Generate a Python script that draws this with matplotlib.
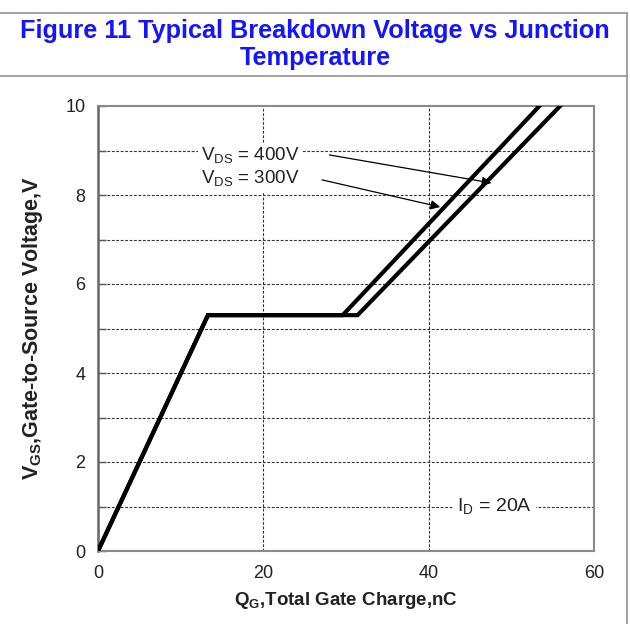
import matplotlib
matplotlib.use("Agg")
import matplotlib.pyplot as plt
from matplotlib.lines import Line2D

plt.rcParams['font.family'] = ['Liberation Sans', 'DejaVu Sans']
plt.rcParams['mathtext.fontset'] = 'custom'
plt.rcParams['mathtext.rm'] = 'Liberation Sans'
plt.rcParams['mathtext.bf'] = 'Liberation Sans:bold'

# Data
title = "Figure 11 Typical Breakdown Voltage vs Junction\nTemperature"
q_300 = [0, 13.3, 29.6, 53.4]
v_300 = [0, 5.3, 5.3, 10.0]
q_400 = [0, 13.3, 31.4, 55.9]
v_400 = [0, 5.3, 5.3, 10.0]
x_ticks = [0, 20, 40, 60]
y_ticks = [0, 2, 4, 6, 8, 10]
y_minor = [1, 3, 5, 7, 9]
label_400 = r"V$_\mathregular{DS}$ = 400V"
label_300 = r"V$_\mathregular{DS}$ = 300V"
label_id = r"I$_\mathregular{D}$ = 20A"

fig = plt.figure(figsize=(6.30, 6.24), dpi=100)
W, H = 630, 624

# Frame lines of the figure box
border = '#9a9a9a'
fig.add_artist(Line2D([0, 627 / W], [1 - 12.5 / H, 1 - 12.5 / H], color=border, lw=1.3))
fig.add_artist(Line2D([0, 627 / W], [1 - 76 / H, 1 - 76 / H], color=border, lw=1.3))
fig.add_artist(Line2D([627 / W, 627 / W], [0, 1 - 12.5 / H], color=border, lw=1.3))

fig.text(0.5, 1 - 44.5 / H, title, ha='center', va='center', color='#1414ff',
         fontsize=18.2, fontweight='bold', linespacing=1.2)

ax = fig.add_axes([98 / W, 1 - 551 / H, (594 - 98) / W, (551 - 106) / H])
ax.set_xlim(0, 60)
ax.set_ylim(0, 10)

grid_kw = dict(color='#333333', lw=0.8, linestyle=(0, (2.5, 1.5)), zorder=1)
for x in [20, 40]:
    ax.axvline(x, **grid_kw)
for y in range(1, 10):
    ax.axhline(y, **grid_kw)

ax.plot(q_300, v_300, color='black', lw=3.0, zorder=3, solid_joinstyle='miter')
ax.plot(q_400, v_400, color='black', lw=3.0, zorder=3, solid_joinstyle='miter')

ax.set_xticks(x_ticks)
ax.set_yticks(y_ticks)
ax.set_yticks(y_minor, minor=True)
ax.tick_params(axis='both', which='both', direction='in', labelsize=13,
               labelcolor='#222222', color='#555555')
ax.tick_params(axis='y', which='both', length=6, width=1, pad=9)
ax.tick_params(axis='x', which='both', length=0, pad=10)

for side in ['top', 'right', 'bottom']:
    ax.spines[side].set_color('#8a8a8a')
    ax.spines[side].set_linewidth(1.5)
ax.spines['left'].set_color('#666666')
ax.spines['left'].set_linewidth(1.8)

ax.set_xlabel(r"Q$_\mathregular{G}$,Total Gate Charge,nC", fontsize=13.5,
              fontweight='bold', color='#222222', labelpad=6)
ax.set_ylabel(r"V$_\mathregular{GS}$,Gate-to-Source Voltage,V", fontsize=15.5,
              fontweight='bold', color='#222222', labelpad=15)

ax.text(18.4, 8.62, label_400 + "\n" + label_300, ha='center', va='center',
        fontsize=13.5, color='#222222', linespacing=1.15, zorder=4,
        bbox=dict(facecolor='white', edgecolor='none', pad=2))
arrow_kw = dict(arrowstyle='-|>', lw=0.9, color='black', mutation_scale=14,
                shrinkA=0, shrinkB=0)
ax.annotate('', xy=(47.6, 8.27), xytext=(28.0, 8.9), arrowprops=arrow_kw, zorder=5)
ax.annotate('', xy=(41.4, 7.73), xytext=(27.1, 8.34), arrowprops=arrow_kw, zorder=5)

ax.text(48.0, 1.0, label_id, ha='center', va='center', fontsize=14,
        color='#222222', zorder=4,
        bbox=dict(facecolor='white', edgecolor='none', pad=3))

fig.savefig("out.png", dpi=100)
